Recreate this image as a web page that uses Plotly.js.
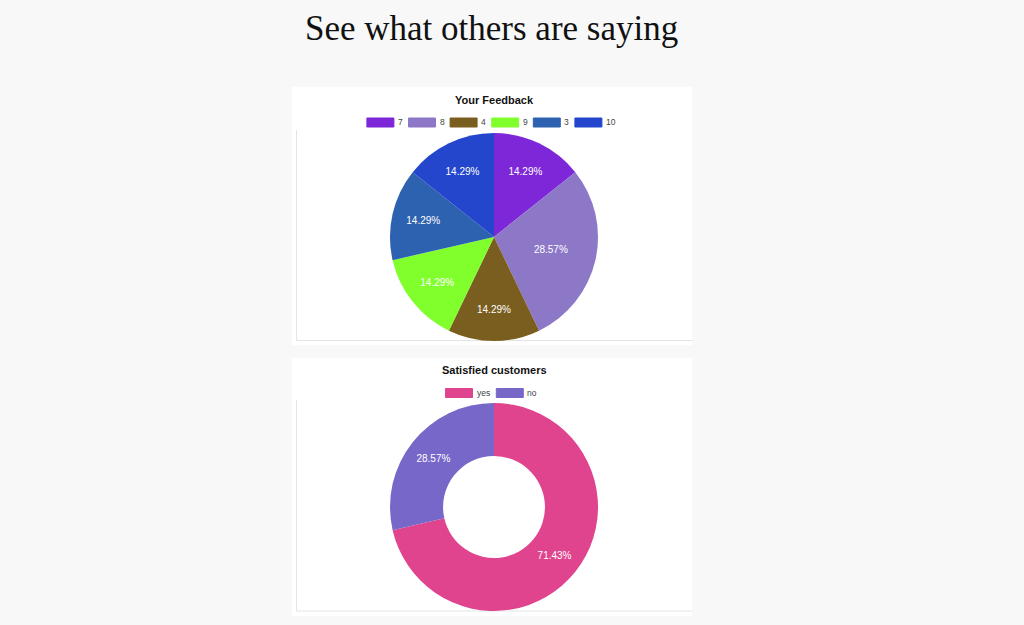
<!DOCTYPE html>
<html>
<head>
<meta charset="utf-8">
<script src="https://cdn.plot.ly/plotly-3.0.1.min.js"></script>
<style>
  html, body { margin: 0; padding: 0; background: #f8f8f8; }
  #chart { width: 1024px; height: 625px; }
</style>
</head>
<body>
<div id="chart"></div>
<script>
// data
const feedbackLabels = ['7', '8', '4', '9', '3', '10'];
const feedbackCounts = [1, 2, 1, 1, 1, 1];
const feedbackColors = ['#7d27d8', '#8d77c7', '#7a5e20', '#80ff2c', '#2d62b0', '#2346cc'];

const satisfiedLabels = ['yes', 'no'];
const satisfiedCounts = [5, 2];
const satisfiedColors = ['#e0448e', '#7767c8'];

const W = 1024, H = 625;
const px = x => x / W;
const py = y => 1 - y / H;

const sans = 'Liberation Sans, Arial, sans-serif';

const shapes = [];
const annotations = [];

// page heading
annotations.push({
  text: 'See what others are saying',
  x: px(491), y: py(29), xref: 'paper', yref: 'paper',
  showarrow: false, xanchor: 'center', yanchor: 'middle',
  font: { family: 'Liberation Serif, DejaVu Serif, serif', size: 35, color: '#111111' }
});

// cards: white panel with a faint inner frame
function card(top, bottom, innerTop, innerBottom, title, titleY) {
  shapes.push({ type: 'rect', xref: 'paper', yref: 'paper',
    x0: px(292), x1: px(692), y0: py(bottom), y1: py(top),
    fillcolor: '#ffffff', line: { width: 0 }, layer: 'below' });
  shapes.push({ type: 'line', xref: 'paper', yref: 'paper',
    x0: px(296.5), x1: px(296.5), y0: py(innerBottom), y1: py(innerTop),
    line: { color: '#e4e4e4', width: 1 }, layer: 'below' });
  shapes.push({ type: 'line', xref: 'paper', yref: 'paper',
    x0: px(296.5), x1: px(692), y0: py(innerBottom), y1: py(innerBottom),
    line: { color: '#e4e4e4', width: 1 }, layer: 'below' });
  annotations.push({
    text: '<b>' + title + '</b>', x: px(494), y: py(titleY), xref: 'paper', yref: 'paper',
    showarrow: false, xanchor: 'center', yanchor: 'middle',
    font: { family: sans, size: 11, color: '#111' }
  });
}

// chart.js style legend: wide colour boxes followed by the label
function legend(labels, colors, centerX, y) {
  const boxW = 27, boxH = 9, gap = 4, spacing = 6;
  const textW = labels.map(l => l.length * 4.6);
  let total = 0;
  labels.forEach((l, i) => { total += boxW + gap + textW[i] + (i < labels.length - 1 ? spacing : 0); });
  let x = centerX - total / 2;
  labels.forEach((l, i) => {
    shapes.push({ type: 'rect', xref: 'paper', yref: 'paper',
      x0: px(x), x1: px(x + boxW), y0: py(y + boxH / 2), y1: py(y - boxH / 2),
      fillcolor: colors[i], line: { color: colors[i], width: 1 } });
    annotations.push({
      text: l, x: px(x + boxW + gap), y: py(y), xref: 'paper', yref: 'paper',
      showarrow: false, xanchor: 'left', yanchor: 'middle',
      borderpad: 0, borderwidth: 0,
      font: { family: sans, size: 8.5, color: '#444' }
    });
    x += boxW + gap + textW[i] + spacing;
  });
}

card(87, 345, 130, 340.5, 'Your Feedback', 100);
legend(feedbackLabels, feedbackColors, 491, 122.5);

card(358, 616, 400, 611, 'Satisfied customers', 370);
legend(satisfiedLabels, satisfiedColors, 491, 393);

const common = {
  type: 'pie',
  sort: false,
  direction: 'clockwise',
  rotation: 0,
  textinfo: 'percent',
  texttemplate: '%{percent:.2%}',
  textposition: 'inside',
  insidetextorientation: 'horizontal',
  insidetextfont: { family: sans, size: 10, color: '#ffffff' },
  hoverinfo: 'none',
  showlegend: false
};

const feedbackPie = Object.assign({}, common, {
  labels: feedbackLabels,
  values: feedbackCounts,
  marker: { colors: feedbackColors, line: { width: 0 } },
  domain: { x: [px(390), px(598)], y: [py(341), py(133)] }
});

const satisfiedPie = Object.assign({}, common, {
  labels: satisfiedLabels,
  values: satisfiedCounts,
  hole: 0.49,
  marker: { colors: satisfiedColors, line: { width: 0 } },
  domain: { x: [px(390), px(598)], y: [py(611), py(403)] }
});

Plotly.newPlot('chart', [feedbackPie, satisfiedPie], {
  width: W,
  height: H,
  margin: { l: 0, r: 0, t: 0, b: 0 },
  paper_bgcolor: '#f8f8f8',
  plot_bgcolor: '#f8f8f8',
  showlegend: false,
  shapes: shapes,
  annotations: annotations
}, { displayModeBar: false, staticPlot: true });
</script>
</body>
</html>
